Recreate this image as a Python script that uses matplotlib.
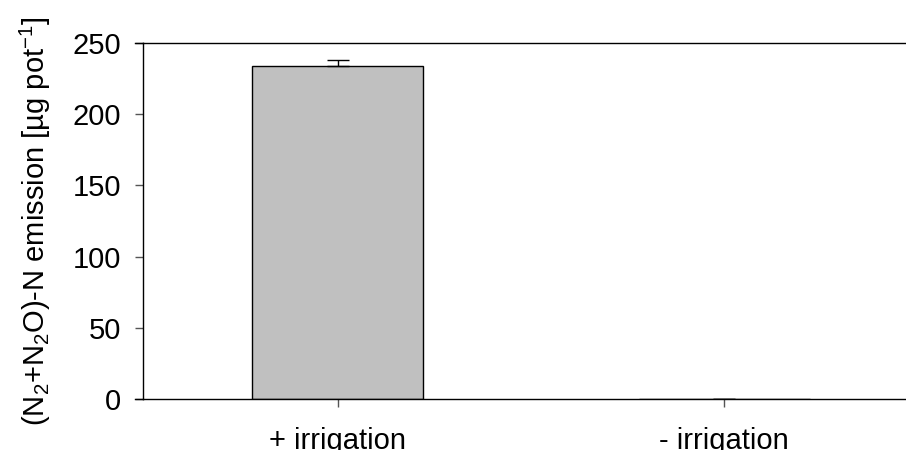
import matplotlib
matplotlib.use("Agg")
import matplotlib.pyplot as plt
from matplotlib.lines import Line2D

plt.rcParams['font.family'] = ['Liberation Sans', 'DejaVu Sans']
plt.rcParams['mathtext.fontset'] = 'custom'
plt.rcParams['mathtext.rm'] = 'Liberation Sans'
plt.rcParams['mathtext.it'] = 'Liberation Sans:italic'

# Treatments and measured emissions
categories = ["+ irrigation", "- irrigation"]
emission = [234.0, 0.0]
emission_se = [4.0, 0.0]
y_ticks = [0, 50, 100, 150, 200, 250]

FS = 21

fig = plt.figure(figsize=(9.06, 4.5), dpi=100)
ax = fig.add_axes([143 / 906, 51 / 450, 776 / 906, 356 / 450])

x = list(range(len(categories)))
ax.bar(x, emission, width=0.443, color="#c0c0c0", edgecolor="black",
       linewidth=1.0, zorder=2)
ax.errorbar(x, emission, yerr=[[0] * len(emission_se), emission_se],
            fmt="none", ecolor="black", elinewidth=1.0, capsize=8,
            capthick=1.0, zorder=3)

ax.set_xlim(-0.505, 1.505)
ax.set_ylim(0, 250)
ax.set_xticks(x)
ax.set_xticklabels(categories, fontsize=FS)
ax.set_yticks(y_ticks)
ax.set_yticklabels([str(t) for t in y_ticks], fontsize=FS)

ax.spines['right'].set_visible(False)
for s in ('left', 'top', 'bottom'):
    ax.spines[s].set_linewidth(1.0)
ax.tick_params(axis='both', direction='out', length=6, width=1.0,
               color='#555555')
ax.tick_params(axis='y', pad=10)
ax.tick_params(axis='x', pad=14)

# Frame lines reach out to the tick ends on the left
off = -8 / 776
for yy in (0, 1):
    ax.add_line(Line2D([off, 0], [yy, yy], transform=ax.transAxes,
                       color='black', linewidth=1.0, clip_on=False))

ax.set_ylabel(r"(N$_2$+N$_2$O)-N emission [µg pot$^{-1}$]", fontsize=FS,
              labelpad=14)

fig.savefig("out.png", dpi=100)
